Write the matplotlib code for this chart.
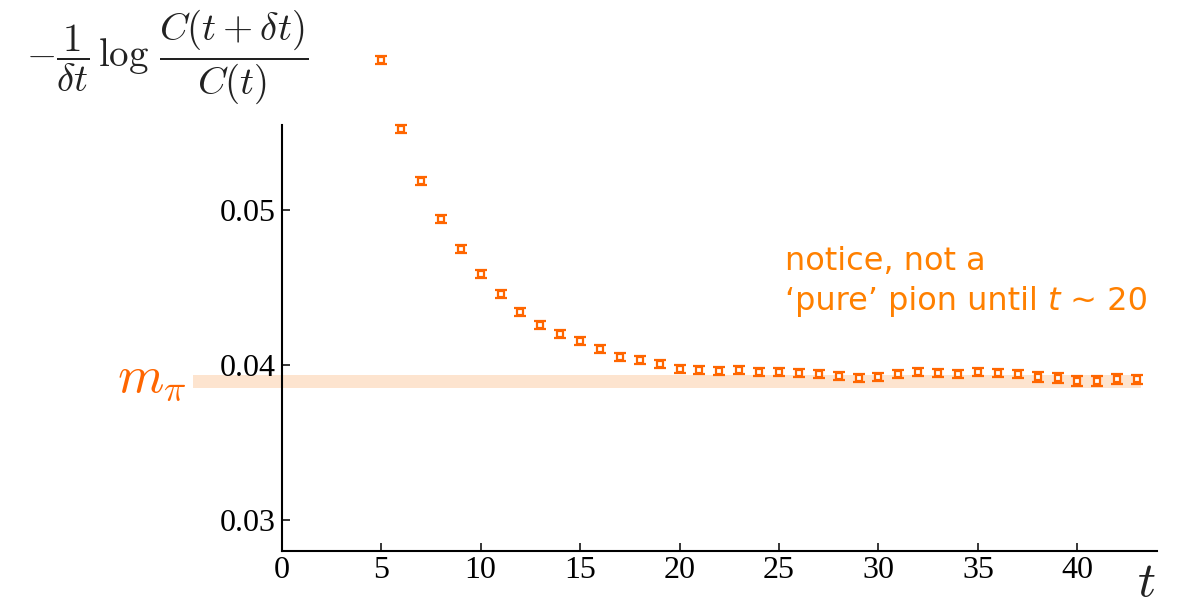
import matplotlib
matplotlib.use("Agg")
import matplotlib.pyplot as plt
import numpy as np

# ---- data ----
t_vals = list(range(5, 44))
eff_mass = [0.059677, 0.055206, 0.051871, 0.049400, 0.047503, 0.045871, 0.044581,
            0.043419, 0.042561, 0.042000, 0.041568, 0.041032, 0.040535, 0.040303,
            0.040045, 0.039742, 0.039658, 0.039613, 0.039690, 0.039529, 0.039568,
            0.039484, 0.039419, 0.039310, 0.039181, 0.039245, 0.039439, 0.039529,
            0.039465, 0.039419, 0.039548, 0.039465, 0.039419, 0.039226, 0.039142,
            0.038987, 0.038987, 0.039097, 0.039077]
eff_err = [0.00027] * 33 + [0.00031] * 6
m_pi = 0.038923
m_pi_err = 0.00043
band_range = [-4.46, 43.2]
x_ticks = [0, 5, 10, 15, 20, 25, 30, 35, 40]
y_ticks = [0.03, 0.04, 0.05]
y_tick_labels = ["0.03", "0.04", "0.05"]

marker_c = "#FF6600"
text_c = "#FF8000"
band_c = "#FDE4CF"

plt.rcParams['mathtext.fontset'] = 'cm'

W, H = 1193, 605
fig = plt.figure(figsize=(W / 100, H / 100), dpi=100)
ax_left = 281.7 / W
ax_w = (1157 - 281.7) / W
ax_bot = (H - 550.7) / H
ax = fig.add_axes([ax_left, ax_bot, ax_w, 1.0 - ax_bot])

ylo = 0.04 - (550.7 - 365) / 15500
yhi = 0.04 + 365 / 15500
ax.set_xlim(0, 44)
ax.set_ylim(ylo, yhi)

# band for m_pi
ax.fill_between(band_range, m_pi - m_pi_err, m_pi + m_pi_err, color=band_c,
                lw=0, zorder=1, clip_on=False)

ax.errorbar(t_vals, eff_mass, yerr=eff_err, fmt='none', ecolor=marker_c,
            elinewidth=1.2, capsize=4.3, capthick=1.6, zorder=3)
ax.plot(t_vals, eff_mass, ls='none', marker='s', ms=5.0, mfc='white',
        mec=marker_c, mew=1.6, zorder=4)

for s in ['top', 'right']:
    ax.spines[s].set_visible(False)
for s in ['left', 'bottom']:
    ax.spines[s].set_linewidth(1.5)
ax.spines['left'].set_bounds(ylo, 0.0555)

ax.set_xticks(x_ticks)
ax.set_yticks(y_ticks)
ax.set_yticklabels(y_tick_labels)
ax.tick_params(direction='in', length=6, width=1.1, labelsize=23, pad=4)
for lab in ax.get_xticklabels() + ax.get_yticklabels():
    lab.set_fontfamily('Liberation Serif')

# y label (formula)
fig.text(167 / W, 1 - 57 / H,
         r'$-\dfrac{1}{\delta t}\,\log\,\dfrac{C(t+\delta t)}{C(t)}$',
         ha='center', va='center', fontsize=28, color='#222222')
# x label
fig.text(1146 / W, 1 - 582 / H, r'$t$', ha='center', va='center',
         fontsize=36, color='#222222')
# m_pi label
fig.text(152 / W, 1 - 379 / H, r'$m_\pi$', ha='center', va='center',
         fontsize=38, color=marker_c)

# annotation
fs = 23
fig.text(785 / W, 1 - 270 / H, 'notice, not a', ha='left', va='baseline',
         fontsize=fs, color=text_c, family='DejaVu Sans')
y2 = 1 - 310 / H
t1 = fig.text(785 / W, y2, '\u2018pure\u2019 pion until ', ha='left', va='baseline',
              fontsize=fs, color=text_c, family='DejaVu Sans')
fig.canvas.draw()
r = fig.canvas.get_renderer()
x_end = t1.get_window_extent(r).x1 / W
t2 = fig.text(x_end, y2, 't', ha='left', va='baseline', fontsize=fs,
              color=text_c, family='DejaVu Sans', style='italic')
fig.canvas.draw()
x_end2 = t2.get_window_extent(r).x1 / W
fig.text(x_end2, y2, ' ~ 20', ha='left', va='baseline', fontsize=fs,
         color=text_c, family='DejaVu Sans')

fig.savefig('out.png', dpi=100)
